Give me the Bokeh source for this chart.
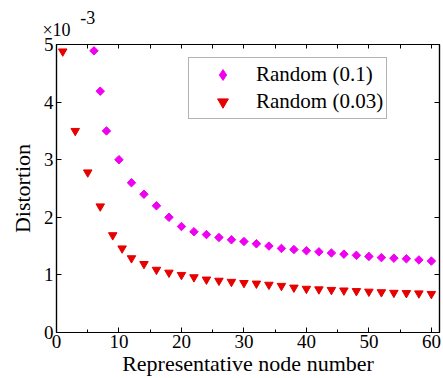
import math
from bokeh.plotting import figure
from bokeh.models import Range1d, FixedTicker, LinearAxis, Legend, LegendItem
from bokeh.embed import file_html
from bokeh.resources import INLINE

# Data (distortion in units of 1e-3)
x_r01 = [6, 7, 8, 10, 12, 14, 16, 18, 20, 22, 24, 26, 28, 30, 32, 34, 36, 38,
         40, 42, 44, 46, 48, 50, 52, 54, 56, 58, 60]
y_r01 = [4.89, 4.19, 3.50, 3.00, 2.60, 2.40, 2.20, 2.00, 1.84, 1.75, 1.70, 1.65,
         1.61, 1.58, 1.54, 1.50, 1.46, 1.44, 1.42, 1.40, 1.38, 1.36, 1.34, 1.32,
         1.30, 1.29, 1.28, 1.26, 1.24]
x_r003 = [1, 3, 5, 7, 9, 10.5, 12, 14, 16, 18, 20, 22, 24, 26, 28, 30, 32, 34,
          36, 38, 40, 42, 44, 46, 48, 50, 52, 54, 56, 58, 60]
y_r003 = [4.88, 3.50, 2.78, 2.19, 1.69, 1.46, 1.29, 1.19, 1.09, 1.04, 1.00, 0.96,
          0.92, 0.90, 0.88, 0.86, 0.85, 0.83, 0.81, 0.78, 0.76, 0.75, 0.74, 0.73,
          0.72, 0.71, 0.70, 0.69, 0.685, 0.68, 0.67]
x_ticks = [0, 10, 20, 30, 40, 50, 60]
x_minor = [5, 15, 25, 35, 45, 55]
top_ticks = [0, 5, 10, 15, 20, 25, 30, 35, 40, 45, 50, 55, 60]
y_ticks = [0, 1, 2, 3, 4, 5]
series_labels = ["Random (0.1)", "Random (0.03)"]
x_label = "Representative node number"
y_label = "Distortion"
exp_base = "\u00d710"
exp_power = "-3"

FONT = "Liberation Serif"
MAGENTA = "#f000f0"
RED = "#e60000"

p = figure(width=443, height=378, output_backend="svg", toolbar_location=None,
           x_range=Range1d(0, 61.3), y_range=Range1d(0, 5),
           min_border_left=56, min_border_right=4, min_border_top=44,
           min_border_bottom=46)
p.xgrid.visible = False
p.ygrid.visible = False
p.outline_line_color = "black"
p.outline_line_width = 1.2
p.background_fill_color = "white"
p.border_fill_color = "white"


def style_axis(ax, show_labels=True):
    ax.axis_line_color = "black"
    ax.axis_line_width = 1.2
    ax.major_tick_in = 5
    ax.major_tick_out = 0
    ax.minor_tick_in = 3
    ax.minor_tick_out = 0
    ax.major_tick_line_color = "black"
    ax.minor_tick_line_color = "black"
    ax.major_label_text_font = FONT
    ax.major_label_text_font_size = "19px"
    ax.major_label_text_color = "black"
    ax.axis_label_text_font = FONT
    ax.axis_label_text_font_size = "22px"
    ax.axis_label_text_font_style = "normal"
    ax.axis_label_text_color = "black"
    if not show_labels:
        ax.major_label_text_alpha = 0
        ax.major_label_standoff = 0


xa = p.xaxis[0]
xa.ticker = FixedTicker(ticks=x_ticks, minor_ticks=x_minor)
style_axis(xa)
xa.major_label_standoff = 2
xa.axis_label = x_label
xa.axis_label_standoff = 0

ya = p.yaxis[0]
ya.ticker = FixedTicker(ticks=y_ticks, minor_ticks=[])
style_axis(ya)
ya.major_label_standoff = 3
ya.axis_label = y_label
ya.axis_label_standoff = 6

# top axis: ticks every 5, carries the "x10^-3" exponent marker as labels
top_labels = {t: "" for t in top_ticks}
top_labels[0] = exp_base
top_labels[5] = exp_power + "\n"
top = LinearAxis(ticker=FixedTicker(ticks=top_ticks, minor_ticks=[]),
                 major_label_overrides=top_labels)
style_axis(top)
top.major_tick_in = 4
top.major_label_text_font_size = "18px"
top.major_label_text_align = "left"
top.major_label_text_line_height = 0.6
top.major_label_standoff = 5
p.add_layout(top, "above")

right = LinearAxis(ticker=FixedTicker(ticks=y_ticks, minor_ticks=[]),
                   major_label_overrides={t: "" for t in y_ticks})
style_axis(right, show_labels=False)
p.add_layout(right, "right")

r1 = p.scatter(x_r01, y_r01, marker="square", angle=math.pi / 4, size=6,
               fill_color=MAGENTA, line_color=MAGENTA)
r2 = p.scatter(x_r003, y_r003, marker="inverted_triangle", size=8.5,
               fill_color=RED, line_color=RED)
# legend-only diamond glyph (placed outside the visible range)
r1_leg = p.scatter([-100], [-100], marker="diamond", size=9.5,
                   fill_color=MAGENTA, line_color=MAGENTA)

legend = Legend(items=[LegendItem(label=series_labels[0], renderers=[r1_leg]),
                       LegendItem(label=series_labels[1], renderers=[r2])],
                location=(132, 213))
legend.label_text_font = FONT
legend.label_text_font_size = "21px"
legend.label_text_color = "black"
legend.padding = 3
legend.spacing = 0
legend.margin = 0
legend.label_height = 27
legend.glyph_height = 27
legend.glyph_width = 61
legend.label_standoff = 3
legend.border_line_color = "#666666"
legend.border_line_width = 1
legend.background_fill_alpha = 1
p.add_layout(legend, "center")

open("out.html", "w").write(file_html(p, INLINE))
